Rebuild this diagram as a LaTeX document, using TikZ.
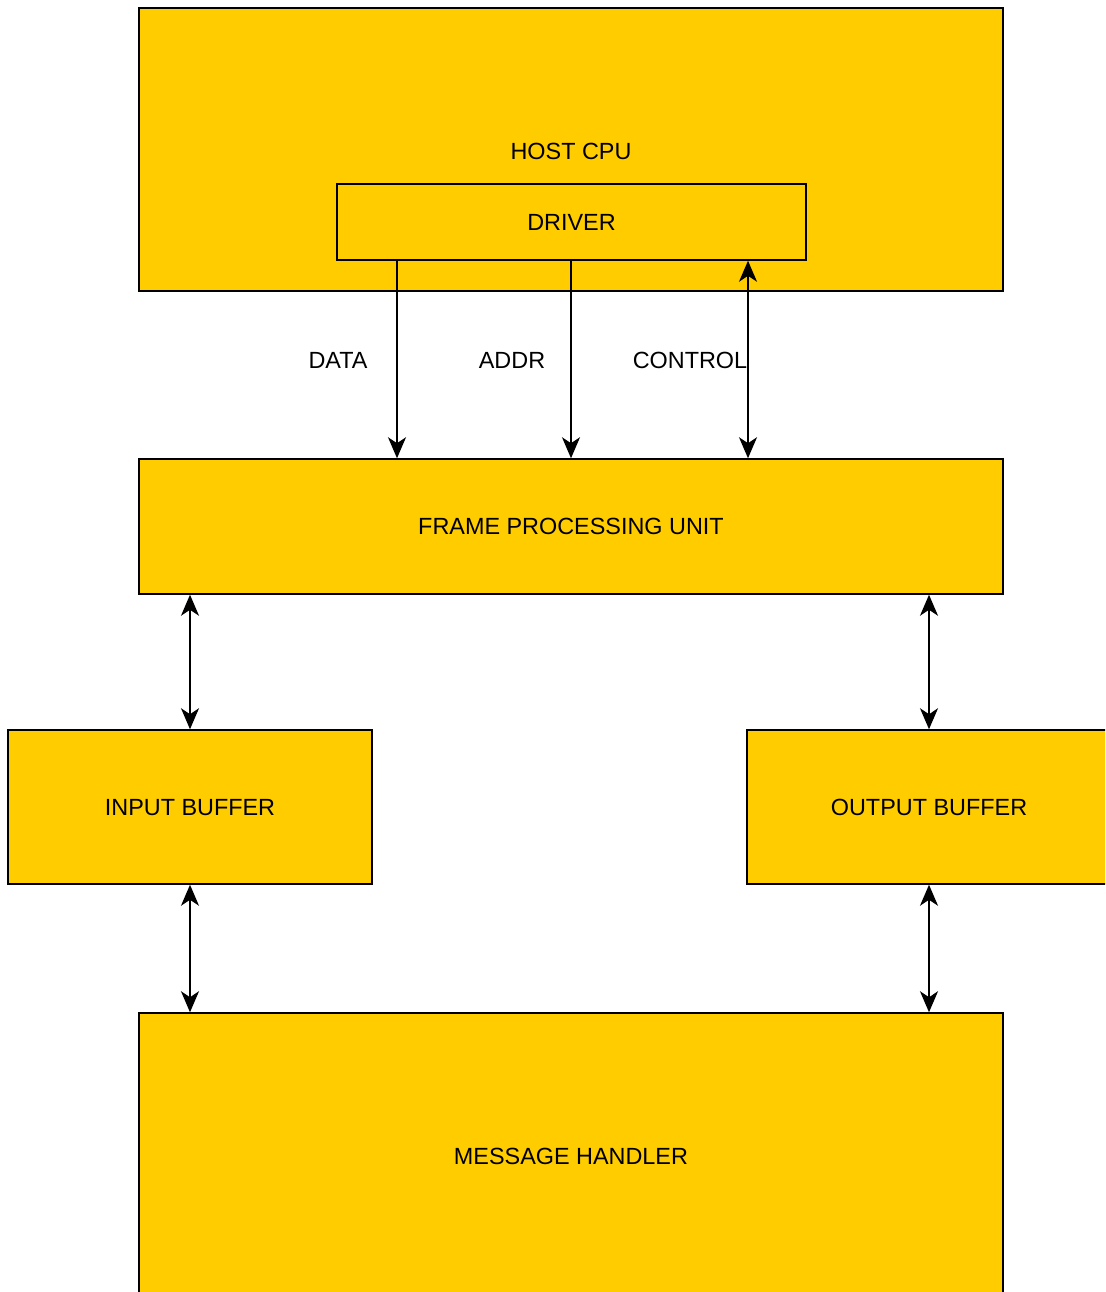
\documentclass[tikz,border=0pt]{standalone}
\usepackage{fontspec}
\setmainfont{Liberation Sans}
\usetikzlibrary{arrows.meta}
\definecolor{boxyellow}{HTML}{FFCC00}

\begin{document}
\begin{tikzpicture}[
            x = 1pt, y = -1pt,
            every node/.style={font=\fontsize{23.4}{28}\selectfont, text depth=0pt},
            box/.style={draw, line width = 1.5pt, fill=boxyellow, rectangle, inner sep=0pt},
            line/.style={line width = 1.5pt},
            arr/.style={line, -{Stealth[length=21pt, width=18pt, inset=6pt]}},
            darr/.style={line, {Stealth[length=21pt, width=18pt, inset=6pt]}-{Stealth[length=21pt, width=18pt, inset=6pt]}},
            ]
        \useasboundingbox (0,0) rectangle (1105,1292);
        \clip (0,0) rectangle (1105,1292);
        \node[box, minimum width=864pt, minimum height=283pt] (host) at (571,149.5) {};
        \node (hostlbl) at (571,151) {HOST CPU};
        \node[box, minimum width=469pt, minimum height=76pt] (driver) at (571.5,222) {DRIVER};
        \node[box, minimum width=864pt, minimum height=135pt] (fpu) at (571,526.5) {FRAME PROCESSING UNIT};
        \node[box, minimum width=364pt, minimum height=154pt] (inbuf) at (190,807) {INPUT BUFFER};
        \node[box, minimum width=364pt, minimum height=154pt] (outbuf) at (929,807) {OUTPUT BUFFER};
        \node[box, minimum width=864pt, minimum height=286pt] (msg) at (571,1156) {MESSAGE HANDLER};
        \coordinate (dataX) at (397,0);
        \coordinate (addrX) at (571,0);
        \coordinate (ctrlX) at (748,0);
        \draw[arr] (driver.south -| dataX) -- (fpu.north -| dataX);
        \draw[arr] (driver.south -| addrX) -- (fpu.north -| addrX);
        \draw[darr] (driver.south -| ctrlX) -- (fpu.north -| ctrlX);
        \node (datalbl) at (338,360) {DATA};
        \node (addrlbl) at (512,360) {ADDR};
        \node (ctrllbl) at (690,360) {CONTROL};
        \draw[darr] (fpu.south -| inbuf) -- (inbuf.north);
        \draw[darr] (inbuf.south) -- (msg.north -| inbuf);
        \draw[darr] (fpu.south -| outbuf) -- (outbuf.north);
        \draw[darr] (outbuf.south) -- (msg.north -| outbuf);
    \end{tikzpicture}
\end{document}
